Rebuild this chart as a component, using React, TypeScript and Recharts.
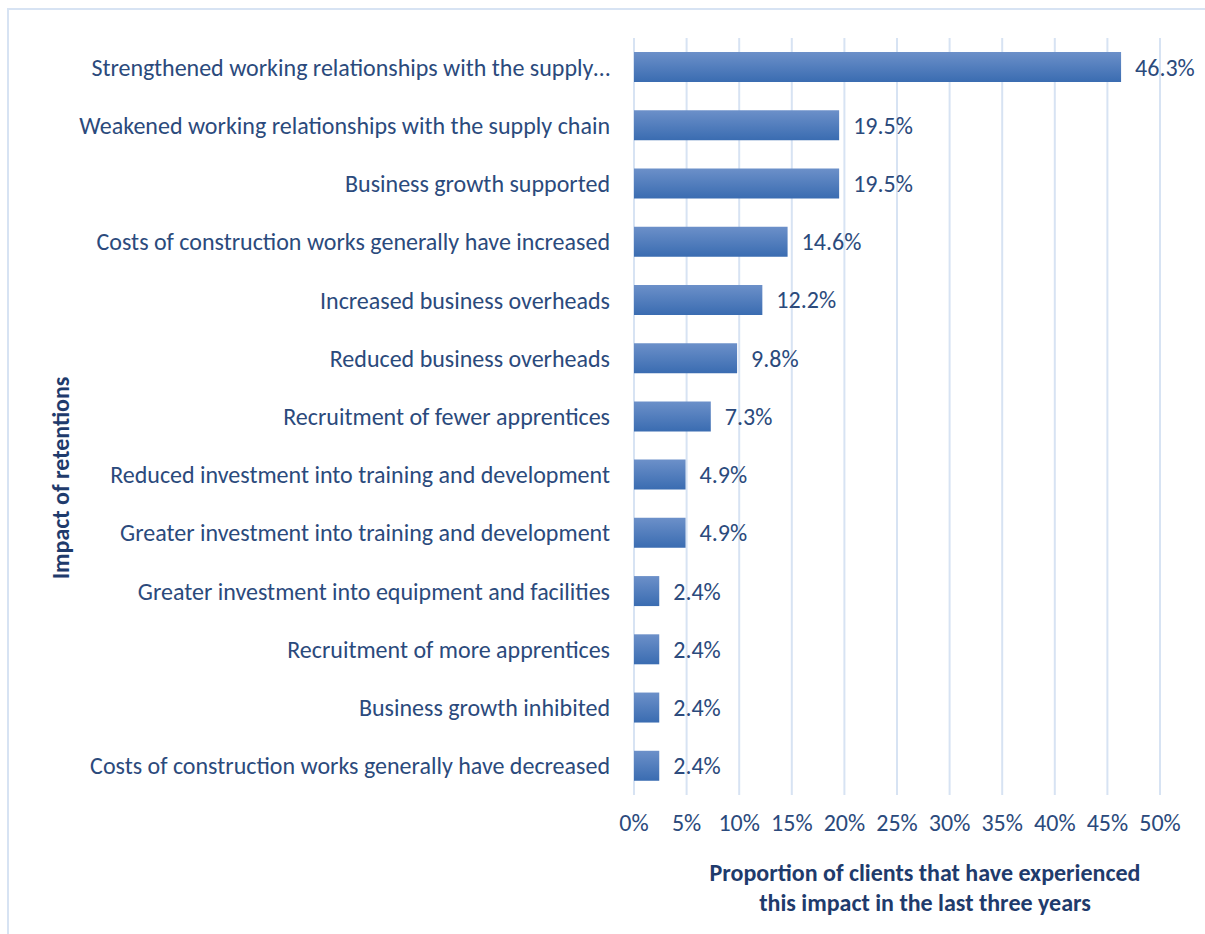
import { BarChart, Bar, XAxis, YAxis, CartesianGrid, LabelList } from 'recharts'

const CATEGORIES = [
  'Strengthened working relationships with the supply…',
  'Weakened working relationships with the supply chain',
  'Business growth supported',
  'Costs of construction works generally have increased',
  'Increased business overheads',
  'Reduced business overheads',
  'Recruitment of fewer apprentices',
  'Reduced investment into training and development',
  'Greater investment into training and development',
  'Greater investment into equipment and facilities',
  'Recruitment of more apprentices',
  'Business growth inhibited',
  'Costs of construction works generally have decreased',
]
const VALUES = [46.3, 19.5, 19.5, 14.6, 12.2, 9.8, 7.3, 4.9, 4.9, 2.4, 2.4, 2.4, 2.4]
const X_TICKS = [0, 5, 10, 15, 20, 25, 30, 35, 40, 45, 50]

const TEXT = '#2B4A7C'
const TITLE = '#1F3B6C'
const GRID = '#D7E3F3'
const FONT = 'Calibri, Carlito, "Open Sans", sans-serif'
const FS = 24

const data = CATEGORIES.map((name, i) => ({ name, value: VALUES[i] }))

export default function App() {
  return (
    <div style={{ position: 'absolute', left: 0, top: 0, width: 1205, height: 934, background: '#fff', fontFamily: FONT, overflow: 'hidden' }}>
      {/* chart frame */}
      <div style={{ position: 'absolute', left: 7, top: 8, width: 1210, height: 940, border: `2px solid ${GRID}`, boxSizing: 'border-box' }} />
      <div style={{ position: 'absolute', left: 0, top: 0 }}>
        <BarChart width={1205} height={934} data={data} layout="vertical"
          margin={{ top: 38, right: 45, left: 0, bottom: 109 }} barSize={30}>
          <CartesianGrid horizontal={false} stroke={GRID} strokeWidth={2} />
          <defs>
            <linearGradient id="barG" x1="0" y1="0" x2="0" y2="1">
              <stop offset="0%" stopColor="#6C90C9" />
              <stop offset="100%" stopColor="#3A6CB1" />
            </linearGradient>
          </defs>
          <XAxis type="number" domain={[0, 50]} ticks={X_TICKS} tickFormatter={(v: number) => `${v}%`}
            axisLine={false} tickLine={false} tickMargin={13} interval={0}
            tick={{ fill: TEXT, fontSize: FS, fontFamily: FONT }} />
          <YAxis type="category" dataKey="name" width={634} axisLine={false} tickLine={false} tickMargin={18}
            interval={0} tick={{ fill: TEXT, fontSize: FS, fontFamily: FONT }} />
          <Bar dataKey="value" fill="url(#barG)" isAnimationActive={false}>
            <LabelList dataKey="value" position="right" offset={14} formatter={(v: number) => `${v.toFixed(1)}%`}
              style={{ fill: TEXT, fontSize: FS, fontFamily: FONT }} />
          </Bar>
        </BarChart>
      </div>
      <div style={{ position: 'absolute', left: 0, top: 478, width: 0, height: 0 }}>
        <div style={{ position: 'absolute', transform: 'translate(-50%, -50%) rotate(-90deg)', left: 60, top: 0, whiteSpace: 'nowrap', color: TITLE, fontWeight: 700, fontSize: FS }}>
          Impact of retentions
        </div>
      </div>
      <div style={{ position: 'absolute', left: 575, top: 858, width: 700, textAlign: 'center', color: TITLE, fontWeight: 700, fontSize: FS, lineHeight: '30px' }}>
        Proportion of clients that have experienced<br />this impact in the last three years
      </div>
    </div>
  )
}
